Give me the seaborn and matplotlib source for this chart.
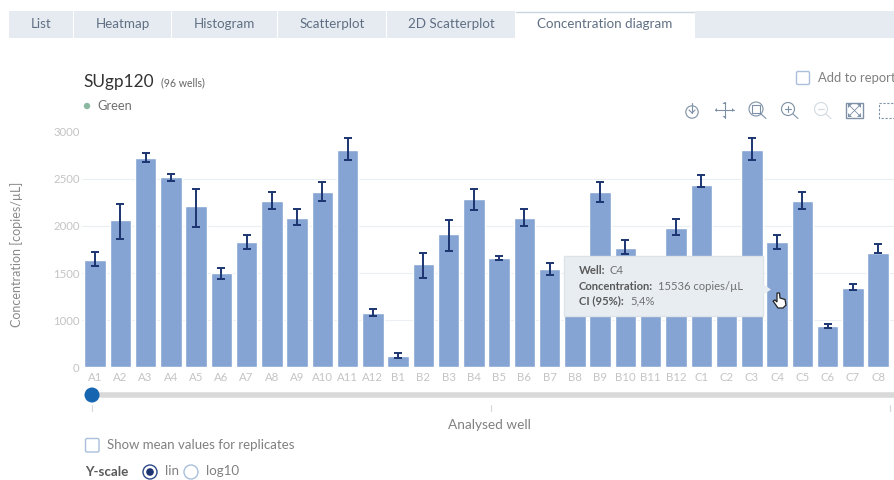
import numpy as np
import pandas as pd
import matplotlib
matplotlib.use('Agg')
import matplotlib.pyplot as plt
import seaborn as sns
from matplotlib.patches import Rectangle, Circle, Polygon, FancyBboxPatch

wells = ['A1','A2','A3','A4','A5','A6','A7','A8','A9','A10','A11','A12',
         'B1','B2','B3','B4','B5','B6','B7','B8','B9','B10','B11','B12',
         'C1','C2','C3','C4','C5','C6','C7','C8']
conc = [1643,2059,2723,2515,2208,1498,1830,2268,2088,2356,2801,1077,
        247,1596,1918,2289,1660,2088,1540,1400,2356,1766,1400,1978,
        2430,1400,2801,1830,2268,873,1346,1717]
err_high = [1724,2230,2775,2546,2388,1551,1900,2363,2176,2462,2935,1116,
            304,1710,2059,2391,1685,2176,1607,1440,2462,1855,1440,2070,
            2543,1440,2935,1900,2363,930,1381,1805]
err_low = [1575,1865,2674,2480,1988,1442,1752,2176,2006,2268,2695,1050,
           198,1452,1731,2165,1639,2003,1484,1360,2258,1702,1360,1908,
           2412,1360,2695,1752,2176,825,1318,1713]
y_ticks = [0,1000,1500,2000,2500,3000]
tab_names = ['List','Heatmap','Histogram','Scatterplot','2D Scatterplot','Concentration diagram']

sns.set_theme(style='white')
plt.rcParams['font.family'] = ['Lato','DejaVu Sans']

fig = plt.figure(figsize=(8.94,4.8),dpi=100)
ax = fig.add_axes([82.4/894,(480-367.4)/480,(894-82.4)/894,(367.4-131.5)/480])

df = pd.DataFrame({'well':wells,'conc':conc})
sns.barplot(data=df,x='well',y='conc',color='#85a3d3',saturation=1,width=0.85,ax=ax,zorder=2)

# axis in the app is squeezed below 1000
ax.set_yscale('function',functions=(lambda v: np.interp(v,[0,1000,3000],[0,500,2500]),
                                    lambda v: np.interp(v,[0,500,2500],[0,1000,3000])))
yerr = [np.array(conc)-np.array(err_low),np.array(err_high)-np.array(conc)]
ax.errorbar(range(len(wells)),conc,yerr=yerr,fmt='none',ecolor='#1c3570',elinewidth=1.4,capsize=3.2,capthick=1.4,zorder=3)

ax.set_xlim(-0.5,31.63)
ax.set_ylim(0,3000)
ax.set_yticks(y_ticks)
ax.grid(axis='y',color='#ebeef2',lw=0.8)
ax.set_axisbelow(True)
sns.despine(ax=ax,left=True,right=True,top=True,bottom=True)
ax.tick_params(axis='x',length=0,labelsize=8.2,labelcolor='#c4c4c4',pad=3.5)
ax.tick_params(axis='y',length=0,labelsize=8.2,labelcolor='#c4c4c4',pad=2)
ax.set_xlabel('')
ax.set_ylabel('')

ui = fig.add_axes([0,0,1,1],facecolor='none')
ui.set_xlim(0,894)
ui.set_ylim(480,0)
ui.axis('off')

# tabs
tab_edges = [(9,73),(74,171),(172,277),(278,386),(387,515),(516,694)]
for i,(name,(a,b)) in enumerate(zip(tab_names,tab_edges)):
    active = name=='Concentration diagram'
    ui.add_patch(Rectangle((a,11),b-a,27,fc='white' if active else '#e6ebf1',ec='none'))
    if active:
        ui.plot([a,b],[11.5,11.5],color='#c9d6df',lw=1)
    ui.text((a+b)/2,24.5,name,ha='center',va='center',fontsize=9.65,color='#5f6f83')
ui.add_patch(Rectangle((695,11),199,27,fc='#e6ebf1',ec='none'))

ui.text(83,82,'SUgp120',fontsize=12.4,color='#333333',va='center')
ui.text(161,83,'(96 wells)',fontsize=7.6,color='#666666',va='center')
ui.add_patch(Circle((87,106),3.2,fc='#8ab8a0',ec='none'))
ui.text(97.5,105.5,'Green',fontsize=9.3,color='#707070',va='center')

ui.add_patch(FancyBboxPatch((796.5,71.5),13,13,boxstyle='round,pad=0,rounding_size=1.5',fc='white',ec='#a9bfdc',lw=1))
ui.text(818,78,'Add to report',fontsize=9.35,color='#808080',va='center')

# toolbar
ic = '#7d90a6'
ui.add_patch(Circle((692,112),6.2,fc='none',ec=ic,lw=0.8))
ui.plot([692,692],[103,113],color=ic,lw=0.8)
ui.plot([689,692,695],[110,113,110],color=ic,lw=0.8)
ui.plot([715,734],[110,110],color=ic,lw=0.8)
ui.plot([724.5,724.5],[102,118],color=ic,lw=0.8)
for p in ([[717,108],[717,112],[715,110]],[[732,108],[732,112],[734,110]],[[722.5,104],[726.5,104],[724.5,102]],[[722.5,116],[726.5,116],[724.5,118]]):
    ui.add_patch(Polygon(p,fc=ic,ec='none'))
ui.add_patch(Circle((756,109),7,fc='none',ec=ic,lw=0.8))
ui.add_patch(Rectangle((752,105),8,8,fc='none',ec=ic,lw=0.8))
ui.plot([761,766],[114,118.5],color=ic,lw=0.8)
ui.add_patch(Circle((788,109),6.5,fc='none',ec=ic,lw=0.8))
ui.plot([793,798],[114,118.5],color=ic,lw=0.8)
ui.plot([785,791],[109,109],color=ic,lw=0.8)
ui.plot([788,788],[106,112],color=ic,lw=0.8)
ui.add_patch(Circle((821,109),6.5,fc='none',ec='#d2dae2',lw=0.8))
ui.plot([826,831],[114,118.5],color='#d2dae2',lw=0.8)
ui.plot([818,824],[109,109],color='#d2dae2',lw=0.8)
ui.add_patch(Rectangle((846,102.5),16.5,15.5,fc='none',ec=ic,lw=1))
ui.plot([849,860],[105,116],color=ic,lw=0.6)
ui.plot([849,860],[116,105],color=ic,lw=0.6)
for p in ([[848,104],[852,104],[848,108]],[[861,104],[857,104],[861,108]],[[848,117],[852,117],[848,113]],[[861,117],[857,117],[861,113]]):
    ui.add_patch(Polygon(p,fc=ic,ec='none'))
ui.add_patch(Rectangle((878.5,102.5),20,15.5,fc='none',ec=ic,lw=0.8,ls=(0,(2,1.5))))

ui.text(16.5,254.5,'Concentration [copies/µL]',rotation=90,ha='center',va='center',fontsize=9,color='#8a8a8a')

# slider
ui.plot([92,894],[395,395],color='#d9d9d9',lw=4,solid_capstyle='butt')
ui.add_patch(Circle((92,395),7.5,fc='#1565b0',ec='none',zorder=5))
for x in (91.5,490.5,889.5):
    ui.plot([x,x],[405,411],color='#d5d5d5',lw=0.8)
ui.text(489.5,425,'Analysed well',ha='center',va='center',fontsize=9.8,color='#808080')

ui.add_patch(FancyBboxPatch((85.5,438.5),13.5,13.5,boxstyle='round,pad=0,rounding_size=1.5',fc='white',ec='#a9bfdc',lw=1))
ui.text(107,445,'Show mean values for replicates',fontsize=9.55,color='#808080',va='center')
ui.text(85,472,'Y-scale',fontsize=9.6,fontweight='bold',color='#5a5a5a',va='center')
ui.add_patch(Circle((150,472),7,fc='white',ec='#2c4a8a',lw=1))
ui.add_patch(Circle((150,472),3.8,fc='#1c3570',ec='none'))
ui.text(164.5,471,'lin',fontsize=9.6,color='#808080',va='center')
ui.add_patch(Circle((191,472),7,fc='white',ec='#a9bfdc',lw=1))
ui.text(206,471,'log10',fontsize=9.6,color='#808080',va='center')

# tooltip
ui.add_patch(Rectangle((564,256),199,60,fc='#e8edf1',ec='#dde3e8',lw=1,zorder=6))
ui.add_patch(Polygon([[763,284],[771,289.5],[763,295]],fc='#e8edf1',ec='none',zorder=6))
tip = [(271,'Well:',579,'C4',609),(286,'Concentration:',579,'15536 copies/µL',658.5),(301,'CI (95%):',579,'5,4%',630)]
for y,head,x1,val,x2 in tip:
    ui.text(x1,y,head,fontsize=8.1,fontweight='bold',color='#5a5a5a',va='center',zorder=7)
    ui.text(x2,y,val,fontsize=8.1,color='#707070',va='center',zorder=7)

# hand cursor
hand = [[777,293],[779.5,293],[780,298],[785,299.5],[786,305],[783,308],[778,308],[773,301],[775,300],[777,302]]
ui.add_patch(Polygon(hand,fc='white',ec='#222222',lw=0.9,zorder=8))

fig.savefig('out.png',dpi=100)
